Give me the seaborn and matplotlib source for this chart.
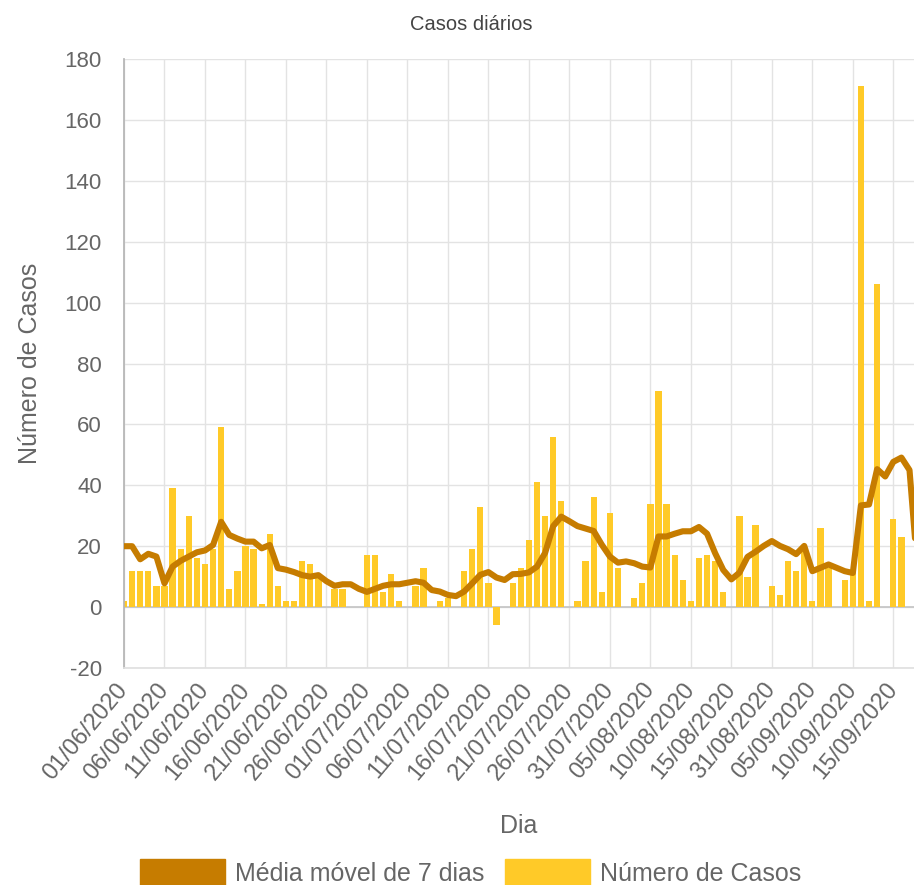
import numpy as np
import pandas as pd
import seaborn as sns
import matplotlib
matplotlib.use('Agg')
from matplotlib import pyplot as plt
from matplotlib.patches import Patch

# Dias: 01/06 a 15/08, depois 27/08 a 18/09 (lacuna na série)
dias = list(pd.date_range('2020-06-01', '2020-08-15').strftime('%d/%m/%Y')) + \
       list(pd.date_range('2020-08-27', '2020-09-18').strftime('%d/%m/%Y'))

casos = [2, 12, 12, 12, 7, 7, 39, 19, 30, 16,
         14, 19, 59, 6, 12, 20, 19, 1, 24, 7,
         2, 2, 15, 14, 10, 0, 6, 6, 0, 0,
         17, 17, 5, 11, 2, 0, 7, 13, 0, 2,
         3, 0, 12, 19, 33, 8, -6, 0, 8, 13,
         22, 41, 30, 56, 35, 0, 2, 15, 36, 5,
         31, 13, 0, 3, 8, 34, 71, 34, 17, 9,
         2, 16, 17, 15, 5, 0, 30, 10, 27, 0,
         7, 4, 15, 12, 19, 2, 26, 13, 0, 9,
         12, 171, 2, 106, 0, 29, 23, 0, 0]

media_movel = [20, 20, 15.7, 17.5, 16.6, 7.8, 13.3, 15.2, 16.6, 18,
               18.6, 20.4, 28, 23.7, 22.5, 21.5, 21.5, 19.3, 20.4, 12.8,
               12.3, 11.5, 10.5, 10, 10.5, 8.5, 7, 7.5, 7.5, 6,
               5, 6, 7, 7.5, 7.5, 8, 8.5, 8, 5.6, 5.1,
               4, 3.6, 5.1, 7.8, 10.6, 11.5, 9.7, 8.9, 10.8, 10.9,
               11.4, 13.3, 17.8, 26.6, 29.7, 28.2, 26.6, 25.8, 25, 20.5,
               16.6, 14.6, 15, 14.4, 13.3, 13, 23.2, 23.2, 24.1, 24.9,
               24.9, 26.3, 24.1, 17.7, 12.2, 9.1, 11.3, 16.5, 18.2, 20.1,
               21.7, 20.1, 19, 17.4, 20.1, 11.8, 12.9, 14, 12.9, 11.8,
               11.2, 33.4, 33.7, 45.3, 42.9, 47.7, 49.1, 45, 12]

y_ticks = list(range(-20, 181, 20))

cor_barra = '#ffca28'
cor_linha = '#c67c00'
cinza = '#666666'

df = pd.DataFrame({'idx': np.arange(len(dias)), 'dia': dias,
                   'casos': casos, 'media': media_movel})

sns.set_theme(style='white')
plt.rcParams['font.family'] = ['Liberation Sans', 'DejaVu Sans']

fig = plt.figure(figsize=(9.14, 8.85), dpi=100)
ax = fig.add_axes([124 / 914, 1 - 668 / 885, 790 / 914, 609 / 885])

sns.barplot(data=df, x='idx', y='casos', native_scale=True, width=0.78,
            color=cor_barra, saturation=1, linewidth=0, ax=ax, zorder=2)
sns.lineplot(data=df, x='idx', y='media', color=cor_linha, linewidth=4.4,
             ax=ax, zorder=3, solid_joinstyle='round', solid_capstyle='round')

# eixos e grade
ax.set_ylim(-20, 180)
ax.set_xlim(0, 790 / 8.098)
ax.set_yticks(y_ticks)
ax.set_yticklabels([str(v) for v in y_ticks], fontsize=16, color=cinza)
ticks_x = list(range(0, 96, 5))
ax.set_xticks(ticks_x)
ax.set_xticklabels([dias[i] for i in ticks_x], fontsize=17, color=cinza,
                   rotation=50, ha='right', va='center', rotation_mode='anchor')
ax.grid(True, color='#e3e3e3', linewidth=1)
ax.set_axisbelow(True)
ax.axhline(0, color='#c4c4c4', linewidth=1.2, zorder=1)
ax.tick_params(axis='both', length=11, width=1, color='#e3e3e3', pad=5)
ax.tick_params(axis='x', pad=2)
for s in ['top', 'right']:
    ax.spines[s].set_visible(False)
ax.spines['left'].set_color('#b5b5b5')
ax.spines['bottom'].set_color('#e0e0e0')

ax.set_xlabel('Dia', fontsize=18, color=cinza, labelpad=22)
ax.set_ylabel('Número de Casos', fontsize=18, color=cinza, labelpad=16)

fig.text(0.516, 0.972, 'Casos diários', ha='center', va='center',
         fontsize=14.5, color='#444444')

handles = [Patch(facecolor=cor_linha, edgecolor=cor_linha),
           Patch(facecolor=cor_barra, edgecolor=cor_barra)]
fig.legend(handles, ['Média móvel de 7 dias', 'Número de Casos'],
           loc='center', bbox_to_anchor=(0.515, 0.014), ncol=2, frameon=False,
           fontsize=18, labelcolor=cinza, handlelength=3.4, handleheight=1.3,
           columnspacing=0.85, handletextpad=0.4)

fig.savefig('out.png', dpi=100)
